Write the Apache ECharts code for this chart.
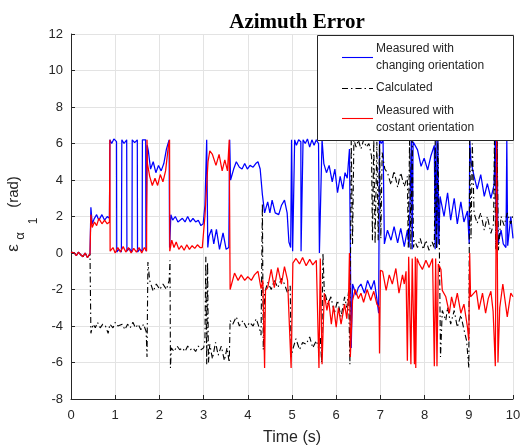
<!DOCTYPE html>
<html>
<head>
<meta charset="utf-8">
<title>Azimuth Error</title>
<script src="https://cdn.jsdelivr.net/npm/echarts@6.0.0/dist/echarts.min.js"></script>
<style>
  html, body { margin: 0; padding: 0; background: #fff; }
  #chart { width: 522px; height: 447px; }
</style>
</head>
<body>
<div id="chart"></div>
<script>
// Azimuth error traces, [time (s), error (rad)]
const measuredChanging = [
  [0,0.05],[0.08,0],[0.12,-0.15],[0.17,0.05],[0.22,-0.1],[0.27,-0.2],[0.32,0],[0.37,-0.25],[0.43,-0.05],
  [0.45,2.5],[0.48,1.6],[0.53,1.9],[0.58,2.1],[0.63,1.8],[0.7,2.1],[0.76,1.8],[0.82,2.0],[0.87,1.9],
  [0.88,6.2],[0.92,6.0],[0.97,6.25],[1.03,6.1],[1.035,0.05],[1.08,0.2],[1.14,0.05],[1.15,6.2],[1.2,6.0],[1.26,6.2],
  [1.265,0.1],[1.32,0.25],[1.38,0.05],[1.385,6.2],[1.44,6.05],[1.5,6.2],[1.505,0.05],[1.55,0.2],[1.61,0.1],
  [1.615,6.2],[1.65,6.1],[1.69,6.2],[1.695,0.1],[1.72,0.2],
  [1.725,5.9],[1.75,5.6],[1.8,4.6],[1.86,5.0],[1.92,4.4],[1.98,4.8],[2.04,4.5],[2.1,4.9],[2.16,5.7],[2.22,6.2],
  [2.23,0.3],[2.26,2.1],[2.3,1.8],[2.36,2.0],[2.42,1.7],[2.46,1.6],[2.52,1.9],[2.58,1.7],[2.64,2.0],[2.7,1.7],
  [2.76,1.9],[2.82,1.7],[2.88,1.8],[2.94,1.5],[2.99,1.6],
  [3.03,2.6],[3.07,6.2],[3.09,6.1],[3.095,0.3],[3.12,0.9],[3.18,1.3],[3.23,0.5],[3.29,1.3],[3.36,0.2],[3.44,1.1],
  [3.51,0.2],[3.57,0.3],[3.59,6.2],[3.61,4.0],[3.68,4.6],[3.74,5.0],[3.81,4.7],[3.87,4.6],[3.93,4.9],[3.99,4.6],
  [4.05,4.8],[4.12,4.7],[4.18,4.9],[4.23,5.0],[4.28,4.6],[4.33,3.2],[4.38,2.2],[4.45,2.8],[4.5,2.2],[4.55,2.9],
  [4.62,2.2],[4.7,2.1],[4.76,2.6],[4.83,2.9],[4.89,2.2],[4.93,0.6],[4.97,0.3],
  [4.99,6.2],[5.01,6.1],[5.015,0.1],[5.05,0.1],[5.06,6.2],[5.1,5.9],[5.15,6.2],[5.2,6.1],[5.205,0.1],[5.24,0.2],
  [5.25,6.2],[5.3,6.0],[5.35,6.25],[5.4,5.8],[5.45,6.2],[5.5,5.9],[5.55,6.2],[5.6,6.0],[5.62,0.0],[5.66,0.1],[5.68,6.2],
  [5.72,4.9],[5.78,4.4],[5.84,4.8],[5.91,3.9],[5.97,4.6],[6.03,3.3],[6.09,4.2],[6.15,3.5],[6.2,4.4],[6.25,4.1],
  [6.3,5.7],[6.34,-5.2],[6.37,-1.7],[6.45,-2.3],[6.5,-1.9],[6.56,-1.7],[6.64,-2.2],[6.71,-1.5],[6.79,-2.0],
  [6.86,-1.5],[6.92,-2.5],[6.96,-3.3],
  [6.98,6.2],[7.02,6.0],[7.06,6.2],[7.09,0.5],[7.16,1.25],[7.24,0.7],[7.31,1.45],[7.39,0.55],[7.46,1.35],
  [7.54,0.35],[7.61,1.25],[7.65,0.3],[7.68,0.3],[7.7,6.2],[7.72,0.2],[7.74,6.1],[7.77,6.05],[7.84,5.65],
  [7.92,4.75],[7.99,5.2],[8.07,4.55],[8.14,5.3],[8.22,5.9],[8.24,0.2],[8.26,6.2],[8.28,0.3],[8.3,6.2],[8.32,0.5],
  [8.35,3.1],[8.44,2.0],[8.52,3.3],[8.59,1.8],[8.67,3.0],[8.74,1.6],[8.82,2.8],[8.89,1.7],[8.97,2.3],[9.01,0.5],
  [9.02,6.2],[9.05,5.0],[9.12,4.2],[9.19,3.5],[9.27,4.3],[9.35,3.1],[9.42,3.8],[9.5,3.0],[9.57,3.7],[9.6,6.2],
  [9.62,0.3],[9.64,6.2],[9.66,0.5],[9.73,1.25],[9.78,0.5],[9.84,0.3],[9.86,6.2],[9.88,0.4],[9.95,2.0],[10,0.8]
];

const calculated = [
  [0,0.05],[0.08,0],[0.12,-0.15],[0.17,0.05],[0.22,-0.1],[0.27,-0.2],[0.32,0],[0.37,-0.25],[0.43,-0.05],
  [0.44,0],[0.45,-4.4],[0.5,-3.9],[0.55,-4.1],[0.6,-3.8],[0.66,-4.1],[0.72,-3.9],[0.78,-4.0],[0.84,-4.4],
  [0.88,-3.9],[0.95,-4.1],[1.0,-3.8],[1.06,-4.0],[1.1,-4.1],[1.16,-3.9],[1.22,-4.2],[1.28,-3.9],[1.34,-4.1],
  [1.4,-3.8],[1.46,-4.1],[1.52,-3.9],[1.58,-4.2],[1.64,-3.9],[1.7,-4.3],
  [1.72,-5.7],[1.74,-0.5],[1.78,-1.5],[1.86,-2.1],[1.93,-1.7],[2.01,-2.0],[2.08,-1.7],[2.16,-2.0],[2.22,-1.5],
  [2.24,-0.4],[2.25,-6.3],[2.27,-5.2],[2.33,-5.4],[2.4,-5.1],[2.46,-5.3],[2.52,-5.2],[2.58,-5.4],[2.64,-5.1],
  [2.7,-5.3],[2.76,-5.2],[2.82,-5.4],[2.88,-5.1],[2.94,-5.3],[3.0,-5.2],[3.03,-4.8],[3.05,-0.2],[3.07,-6.1],
  [3.09,-0.5],[3.11,-6.0],[3.14,-5.0],[3.2,-5.8],[3.27,-4.9],[3.33,-5.6],[3.4,-5.1],[3.47,-5.9],[3.53,-5.2],
  [3.58,-6.0],[3.6,-3.7],[3.66,-3.9],[3.74,-3.5],[3.81,-4.0],[3.89,-3.7],[3.97,-4.1],[4.04,-3.8],[4.12,-4.0],
  [4.19,-3.6],[4.26,-4.1],[4.3,-4.5],[4.33,2.7],[4.35,-5.3],[4.38,-2.2],[4.45,-1.6],[4.53,-2.0],[4.6,-1.5],
  [4.68,-1.9],[4.76,-1.4],[4.83,-1.7],[4.9,-2.2],[4.96,-1.8],[4.98,-5.7],[5.02,-5.25],[5.09,-4.7],[5.17,-5.3],
  [5.24,-4.9],[5.32,-5.0],[5.4,-4.6],[5.47,-5.2],[5.55,-4.8],[5.6,-5.2],[5.64,-4.6],[5.67,-6.0],[5.7,0.0],
  [5.73,-2.05],[5.81,-2.8],[5.88,-2.4],[5.96,-3.3],[6.03,-2.6],[6.11,-3.5],[6.19,-2.4],[6.24,-3.0],[6.28,-2.1],
  [6.31,-6.1],[6.34,6.2],[6.37,0.5],[6.4,6.2],[6.45,5.8],[6.5,6.2],[6.56,5.7],[6.62,6.2],[6.68,5.8],[6.74,6.0],
  [6.8,5.3],[6.82,0.7],[6.85,6.2],[6.88,0.5],[6.92,6.1],[6.95,0.7],[6.98,6.0],[7.01,0.8],[7.04,5.5],[7.1,4.6],
  [7.16,4.4],[7.24,3.74],[7.31,4.5],[7.39,3.6],[7.46,4.4],[7.54,3.64],[7.61,4.2],[7.63,0.3],[7.66,6.2],[7.69,0.2],
  [7.72,6.2],[7.75,0.3],[7.77,0.7],[7.84,0.3],[7.9,0.8],[7.97,0.2],[8.03,0.7],[8.1,0.15],[8.17,0.6],[8.22,0.3],
  [8.24,6.2],[8.27,0.2],[8.3,6.2],[8.33,1.25],[8.36,-5.7],[8.4,-3.15],[8.48,-3.7],[8.52,-2.97],[8.59,-3.9],
  [8.67,-3.15],[8.74,-4.07],[8.82,-3.4],[8.89,-4.2],[8.95,-4.8],[9.0,-6.3],[9.02,6.2],[9.05,0.8],[9.08,6.0],
  [9.12,2.17],[9.19,1.63],[9.27,2.2],[9.35,1.25],[9.42,2.0],[9.5,1.08],[9.56,1.6],[9.58,6.2],[9.61,0.2],
  [9.64,6.1],[9.67,0.15],[9.73,2.0],[9.8,1.5],[9.87,2.2],[9.95,1.6],[10,2.1]
];

const measuredConstant = [
  [0,0.05],[0.08,0],[0.12,-0.15],[0.17,0.05],[0.22,-0.1],[0.27,-0.2],[0.32,0],[0.37,-0.25],[0.43,-0.05],
  [0.45,2.1],[0.48,1.4],[0.53,1.7],[0.58,1.5],[0.63,1.9],[0.7,1.6],[0.76,1.8],[0.82,1.6],[0.87,1.7],
  [0.88,6.2],[0.885,0.1],[0.95,0.3],[1.0,0.0],[1.06,0.3],[1.12,0.05],[1.18,0.35],[1.24,0.05],[1.3,0.3],[1.36,0.0],
  [1.42,0.25],[1.48,0.05],[1.54,0.3],[1.6,0.0],[1.66,0.3],[1.71,0.1],
  [1.72,6.2],[1.73,4.9],[1.78,4.2],[1.84,3.7],[1.9,4.1],[1.96,3.7],[2.02,4.3],[2.08,3.9],[2.14,4.5],[2.2,5.8],
  [2.23,6.2],[2.235,0.1],[2.28,0.7],[2.33,0.3],[2.38,0.6],[2.44,0.2],[2.5,0.4],[2.56,0.15],[2.62,0.45],[2.68,0.2],
  [2.74,0.4],[2.8,0.25],[2.86,0.45],[2.92,0.3],[2.97,0.3],
  [3.03,2.0],[3.1,5.0],[3.14,5.6],[3.2,5.4],[3.28,4.8],[3.35,5.4],[3.42,4.5],[3.48,5.1],[3.54,4.5],[3.58,6.2],
  [3.6,-2.0],[3.63,-2.05],[3.7,-1.1],[3.78,-1.5],[3.85,-1.2],[3.93,-1.5],[4.0,-1.3],[4.08,-1.5],[4.15,-1.2],
  [4.23,-1.0],[4.3,-1.95],[4.34,-1.5],[4.38,-6.3],[4.4,-2.05],[4.45,-1.9],[4.53,-0.9],[4.6,-1.9],[4.68,-0.8],
  [4.76,-1.7],[4.83,-0.75],[4.9,-1.5],[4.98,-6.3],[5.02,-0.55],[5.09,-0.3],[5.17,-0.6],[5.24,-0.25],[5.32,-0.7],
  [5.4,-0.35],[5.47,-0.65],[5.55,-0.4],[5.61,-6.3],[5.64,-0.3],[5.68,-6.1],[5.73,-2.2],[5.79,-3.15],[5.83,-2.6],
  [5.89,-3.9],[5.94,-2.9],[6.0,-4.07],[6.05,-3.0],[6.11,-3.9],[6.19,-2.8],[6.24,-3.6],[6.28,-2.4],[6.3,0],
  [6.32,-5.7],[6.37,-2.6],[6.43,-2.0],[6.5,-2.5],[6.56,-2.2],[6.62,-2.7],[6.7,-2.0],[6.78,-2.6],[6.85,-2.1],
  [6.92,-2.8],[6.97,-3.0],[6.98,-5.5],[7.0,-0.95],[7.05,-1.0],[7.13,-2.05],[7.2,-1.2],[7.27,-1.7],[7.35,-0.85],
  [7.42,-2.2],[7.5,-1.2],[7.54,-1.7],[7.58,-1.0],[7.61,-5.9],[7.64,-0.2],[7.69,-6.1],[7.72,-0.3],[7.77,-6.1],
  [7.79,-0.2],[7.8,-6.3],[7.83,-0.3],[7.88,-0.6],[7.95,-0.9],[8.03,-0.4],[8.1,-0.8],[8.18,-0.3],[8.22,-6.2],
  [8.25,-0.3],[8.28,-6.2],[8.31,-0.6],[8.37,-0.9],[8.4,-2.05],[8.48,-2.4],[8.56,-3.3],[8.61,-2.4],[8.67,-3.0],
  [8.74,-2.2],[8.82,-3.3],[8.89,-2.8],[8.97,-4.07],[9.0,-4.8],[9.02,0.0],[9.04,-2.4],[9.08,-2.4],[9.17,-2.05],
  [9.23,-3.1],[9.31,-2.2],[9.38,-3.3],[9.44,-2.5],[9.5,-2.1],[9.55,-3.2],[9.6,-6.2],[9.63,6.3],[9.66,-6.0],
  [9.7,-3.0],[9.77,-1.7],[9.87,-3.5],[9.95,-2.2],[10,-2.4]
];

const seriesNames = [
  'Measured with\nchanging orientation',
  'Calculated',
  'Measured with\ncostant orientation'
];
const seriesColors = ['#0000ff', '#000000', '#ff0000'];
const dashDot = [6, 3, 1.5, 3];

const chart = echarts.init(document.getElementById('chart'), null, { renderer: 'canvas' });

const axisInk = '#262626';
const gridInk = '#e3e3e3';
const sans = '"Liberation Sans", Arial, Helvetica, sans-serif';

// Legend block drawn at the upper right of the plot
const legendX = 317, legendY = 35, legendW = 196, legendH = 105;
const sampleX1 = 342, sampleX2 = 373, textX = 376;
const legendRows = [
  { y: 57, lines: [49, 66] },
  { y: 88, lines: [88] },
  { y: 118, lines: [111, 128] }
];
const legendGraphics = [{
  type: 'rect', z: 100,
  shape: { x: legendX + 0.5, y: legendY + 0.5, width: legendW, height: legendH },
  style: { fill: '#ffffff', stroke: axisInk, lineWidth: 1 }
}];
legendRows.forEach((row, i) => {
  legendGraphics.push({
    type: 'line', z: 101,
    shape: { x1: sampleX1, y1: row.y + 0.5, x2: sampleX2, y2: row.y + 0.5 },
    style: { stroke: seriesColors[i], lineWidth: 1.1, lineDash: i === 1 ? dashDot : null }
  });
  seriesNames[i].split('\n').forEach((txt, k) => {
    legendGraphics.push({
      type: 'text', z: 101, x: textX, y: row.lines[k],
      style: { text: txt, font: '12px ' + sans, fill: axisInk, textAlign: 'left', textVerticalAlign: 'middle' }
    });
  });
});

// Rotated y-axis title: epsilon with alpha_1 subscript, then the unit
const yTitle = [
  { text: '\u03b5', x: 13, y: 248, size: 17 },
  { text: '\u03b1', x: 20, y: 236, size: 13 },
  { text: '1', x: 34, y: 221, size: 12 },
  { text: '(rad)', x: 14, y: 192, size: 15 }
].map(p => ({
  type: 'text', z: 100, x: p.x, y: p.y, rotation: Math.PI / 2,
  style: { text: p.text, font: p.size + 'px ' + sans, fill: axisInk, textAlign: 'center', textVerticalAlign: 'middle' }
}));

const option = {
  animation: false,
  backgroundColor: '#ffffff',
  title: {
    text: 'Azimuth Error',
    left: 292, top: 7, textAlign: 'center',
    textStyle: { fontFamily: '"Liberation Serif", "Times New Roman", serif', fontWeight: 'bold', fontSize: 21, color: '#000' }
  },
  grid: { left: 71, top: 34, right: 9, bottom: 48, containLabel: false, outerBoundsMode: 'none' },
  xAxis: {
    type: 'value', min: 0, max: 10, interval: 1,
    name: 'Time (s)', nameLocation: 'middle', nameGap: 31,
    nameTextStyle: { fontFamily: sans, fontSize: 16, color: axisInk },
    axisLine: { show: true, onZero: false, lineStyle: { color: axisInk, width: 1 } },
    axisTick: { show: true, inside: true, length: 4, lineStyle: { color: axisInk } },
    axisLabel: { fontFamily: sans, fontSize: 13, color: axisInk, margin: 10 },
    splitLine: { show: true, lineStyle: { color: gridInk, width: 1 } }
  },
  yAxis: {
    type: 'value', min: -8, max: 12, interval: 2,
    axisLine: { show: true, onZero: false, lineStyle: { color: axisInk, width: 1 } },
    axisTick: { show: true, inside: true, length: 4, lineStyle: { color: axisInk } },
    axisLabel: { fontFamily: sans, fontSize: 13, color: axisInk, margin: 8 },
    splitLine: { show: true, lineStyle: { color: gridInk, width: 1 } }
  },
  series: [
    { name: seriesNames[0], type: 'line', data: measuredChanging, symbol: 'none', z: 2,
      lineStyle: { color: seriesColors[0], width: 1.25 } },
    { name: seriesNames[1], type: 'line', data: calculated, symbol: 'none', z: 3,
      lineStyle: { color: seriesColors[1], width: 1.1, type: dashDot } },
    { name: seriesNames[2], type: 'line', data: measuredConstant, symbol: 'none', z: 4,
      lineStyle: { color: seriesColors[2], width: 1.25 } }
  ],
  graphic: legendGraphics.concat(yTitle)
};

chart.setOption(option);
</script>
</body>
</html>
